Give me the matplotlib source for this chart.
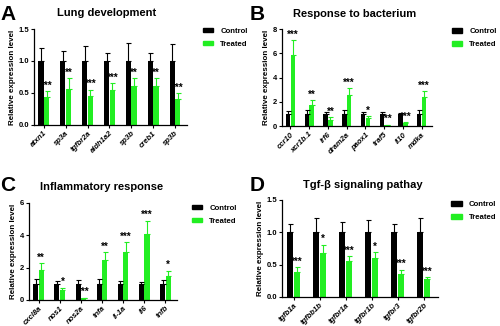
import numpy as np
import matplotlib
matplotlib.use("Agg")
import matplotlib.pyplot as plt
from matplotlib.patches import Patch

plt.rcParams['font.family'] = ['Liberation Sans', 'DejaVu Sans']
plt.rcParams['font.weight'] = 'bold'

BLACK = "#000000"
GREEN = "#22ee22"

# A - lung development
genes_a = ["atxn1", "sp3a", "tgfbr2a", "aldh1a2", "sp3b", "creb1", "sp3b"]
ctrl_a = [1.0, 1.0, 1.0, 1.0, 1.0, 1.0, 1.0]
ctrl_err_a = [0.20, 0.15, 0.24, 0.12, 0.28, 0.12, 0.27]
trt_a = [0.44, 0.56, 0.45, 0.54, 0.61, 0.61, 0.41]
trt_err_a = [0.09, 0.17, 0.10, 0.11, 0.12, 0.12, 0.09]
sig_a = ["***", "**", "***", "***", "**", "**", "***"]

# B - response to bacterium
genes_b = ["ccr10", "xcr1b.1", "irf6", "dram2a", "paox1", "traf5", "il10", "mdka"]
ctrl_b = [1.0, 1.0, 1.0, 1.0, 1.0, 1.0, 1.0, 1.0]
ctrl_err_b = [0.25, 0.30, 0.20, 0.30, 0.15, 0.15, 0.10, 0.30]
trt_b = [5.9, 1.75, 0.5, 2.6, 0.65, 0.1, 0.3, 2.4]
trt_err_b = [1.2, 0.4, 0.25, 0.55, 0.2, 0.02, 0.05, 0.5]
sig_b = ["***", "**", "**", "***", "*", "***", "***", "***"]

# C - inflammatory response
genes_c = ["cxcl8a", "nos1", "nos2a", "tnfa", "il-1a", "il6", "tnfb"]
ctrl_c = [1.0, 1.0, 1.0, 1.0, 1.0, 1.0, 1.0]
ctrl_err_c = [0.28, 0.15, 0.20, 0.28, 0.15, 0.12, 0.25]
trt_c = [1.85, 0.6, 0.1, 2.45, 2.95, 4.05, 1.5]
trt_err_c = [0.40, 0.15, 0.03, 0.50, 0.60, 0.85, 0.30]
sig_c = ["**", "*", "***", "**", "***", "***", "*"]

# D - Tgf-beta signaling
genes_d = ["tgfb1a", "tgfbb1b", "tgfbr1a", "tgfbr1b", "tgfbr3", "tgfbr2b"]
ctrl_d = [1.0, 1.0, 1.0, 1.0, 1.0, 1.0]
ctrl_err_d = [0.12, 0.22, 0.16, 0.19, 0.12, 0.22]
trt_d = [0.39, 0.68, 0.56, 0.60, 0.36, 0.28]
trt_err_d = [0.07, 0.13, 0.07, 0.09, 0.06, 0.03]
sig_d = ["***", "*", "***", "*", "***", "***"]


def panel(rect, genes, ctrl, ctrl_err, trt, trt_err, sig, yticks, ylabels,
          title, title_xy, letter, letter_xy, leg_xy):
    ax = fig.add_axes(rect)
    n = len(genes)
    x = np.arange(n)
    w = 0.24
    zeros = np.zeros(n)
    ax.bar(x - 0.13, ctrl, w, color=BLACK,
           yerr=[zeros, ctrl_err], ecolor=BLACK,
           error_kw=dict(capsize=1.8, elinewidth=0.8, capthick=0.8))
    ax.bar(x + 0.13, trt, w, color=GREEN,
           yerr=[zeros, trt_err], ecolor=GREEN,
           error_kw=dict(capsize=1.8, elinewidth=0.8, capthick=0.8))
    ymax = yticks[-1]
    for i in range(n):
        ax.text(x[i] + 0.13, trt[i] + trt_err[i] + ymax * 0.005, sig[i],
                ha="center", va="bottom", fontsize=7, fontweight="bold")
    ax.set_xlim(-0.45, n - 0.45)
    ax.set_ylim(0, ymax)
    ax.set_yticks(yticks)
    ax.set_yticklabels(ylabels, fontsize=5.5, fontweight="bold")
    ax.set_xticks(x)
    ax.set_xticklabels(genes, rotation=45, ha="right", rotation_mode="anchor",
                       fontsize=5.5, fontstyle="italic", fontweight="bold")
    ax.set_ylabel("Relative expression level", fontsize=5.8, fontweight="bold",
                  labelpad=2)
    for s in ["top", "right"]:
        ax.spines[s].set_visible(False)
    for s in ["left", "bottom"]:
        ax.spines[s].set_linewidth(0.9)
    ax.tick_params(axis="both", length=2, width=0.8, pad=1.5)
    fig.text(title_xy[0], title_xy[1], title, ha="center", va="center",
             fontsize=8, fontweight="bold")
    fig.text(letter_xy[0], letter_xy[1], letter, ha="left", va="center",
             fontsize=15, fontweight="bold")
    handles = [Patch(color=BLACK, label="Control"), Patch(color=GREEN, label="Treated")]
    fig.legend(handles=handles, loc="upper left", bbox_to_anchor=leg_xy,
               frameon=False, handlelength=1.4, handleheight=0.5,
               handletextpad=0.9, labelspacing=0.75, borderaxespad=0,
               borderpad=0, prop=dict(weight="bold", size=5.6))
    return ax


fig = plt.figure(figsize=(5.0, 3.26), dpi=100)

panel([0.068, 0.617, 0.306, 0.294], genes_a, ctrl_a, ctrl_err_a, trt_a, trt_err_a,
      sig_a, [0, 0.5, 1.0, 1.5], ["0.0", "0.5", "1.0", "1.5"],
      "Lung development", (0.214, 0.96), "A", (0.0, 0.955), (0.405, 0.915))
panel([0.564, 0.613, 0.300, 0.298], genes_b, ctrl_b, ctrl_err_b, trt_b, trt_err_b,
      sig_b, [0, 2, 4, 6, 8], ["0", "2", "4", "6", "8"],
      "Response to bacterium", (0.71, 0.957), "B", (0.5, 0.955), (0.903, 0.913))
panel([0.058, 0.080, 0.296, 0.298], genes_c, ctrl_c, ctrl_err_c, trt_c, trt_err_c,
      sig_c, [0, 2, 4, 6], ["0", "2", "4", "6"],
      "Inflammatory response", (0.204, 0.426), "C", (0.0, 0.43), (0.383, 0.372))
panel([0.564, 0.089, 0.312, 0.298], genes_d, ctrl_d, ctrl_err_d, trt_d, trt_err_d,
      sig_d, [0, 0.5, 1.0, 1.5], ["0.0", "0.5", "1.0", "1.5"],
      "Tgf-β signaling pathay", (0.726, 0.432), "D", (0.5, 0.43), (0.902, 0.382))

fig.savefig("out.png", dpi=100)
